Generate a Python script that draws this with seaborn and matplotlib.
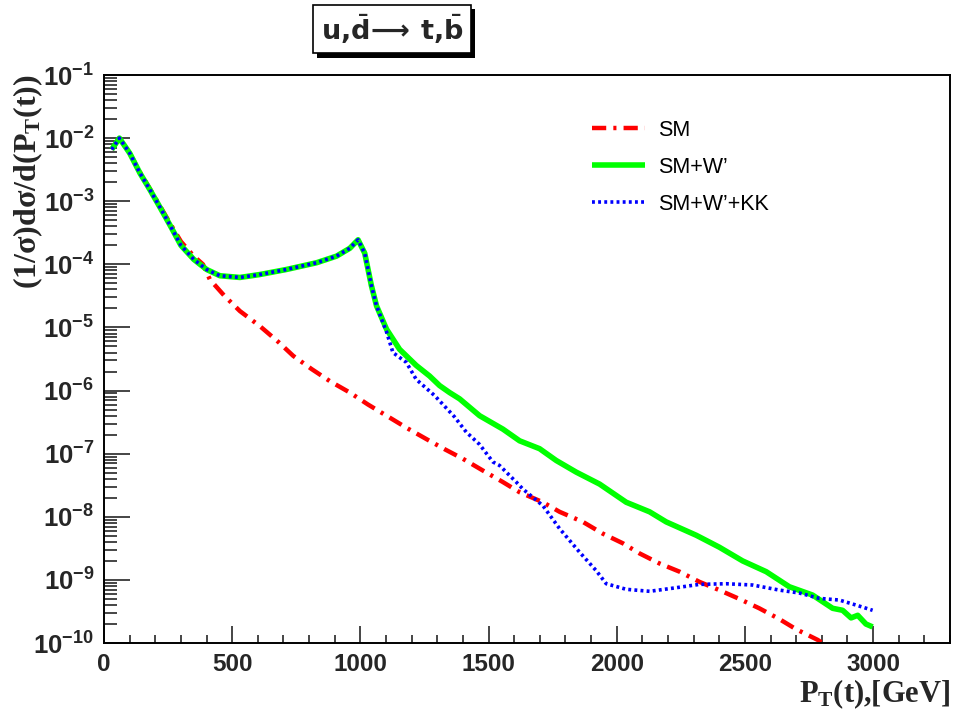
import math
import pandas as pd
import matplotlib
matplotlib.use("Agg")
import matplotlib.pyplot as plt
import matplotlib.ticker as mticker
import matplotlib.patheffects as pe
import seaborn as sns

# ---- data (pT in GeV, normalised distribution) ----
sm_pt = [30, 60, 100, 140, 180, 220, 260, 300, 350, 386, 413, 470, 530, 608, 680, 738,
         810, 881, 959, 1030, 1102, 1180, 1258, 1330, 1400, 1478, 1556, 1621, 1712, 1777,
         1868, 1946, 2024, 2089, 2167, 2245, 2323, 2400, 2478, 2556, 2634, 2699, 2784, 2810]
sm_val = [6.6e-3, 1.0e-2, 5.8e-3, 2.9e-3, 1.55e-3, 8.2e-4, 4.3e-4, 2.3e-4, 1.35e-4, 1.0e-4,
          5.75e-5, 3.16e-5, 1.82e-5, 1.05e-5, 5.9e-6, 3.55e-6, 2.19e-6, 1.41e-6, 9.3e-7,
          6.0e-7, 4.0e-7, 2.57e-7, 1.7e-7, 1.17e-7, 8.3e-8, 5.4e-8, 3.55e-8, 2.45e-8, 1.7e-8,
          1.2e-8, 8.3e-9, 5.4e-9, 3.8e-9, 2.63e-9, 1.82e-9, 1.35e-9, 9.3e-10, 6.9e-10,
          5.0e-10, 3.55e-10, 2.4e-10, 1.66e-10, 1.12e-10, 9.5e-11]

wp_pt = [30, 60, 100, 140, 180, 220, 260, 300, 350, 400, 452, 530, 608, 712, 829, 907, 959,
         991, 1017, 1030, 1043, 1063, 1102, 1153, 1218, 1270, 1309, 1348, 1387, 1465, 1556,
         1621, 1699, 1764, 1842, 1933, 2037, 2128, 2193, 2310, 2400, 2491, 2583, 2673, 2764,
         2842, 2881, 2914, 2940, 2972, 2998]
wp_val = [6.6e-3, 1.0e-2, 5.8e-3, 2.8e-3, 1.5e-3, 7.8e-4, 4.0e-4, 2.0e-4, 1.2e-4, 8.3e-5,
          6.6e-5, 6.2e-5, 6.9e-5, 8.3e-5, 1.06e-4, 1.35e-4, 1.8e-4, 2.45e-4, 1.5e-4, 8.3e-5,
          4.6e-5, 2.2e-5, 9.4e-6, 4.5e-6, 2.5e-6, 1.7e-6, 1.2e-6, 9.3e-7, 7.4e-7, 4.0e-7,
          2.45e-7, 1.6e-7, 1.2e-7, 7.8e-8, 5.1e-8, 3.3e-8, 1.7e-8, 1.2e-8, 8.3e-9, 5.1e-9,
          3.3e-9, 2.0e-9, 1.35e-9, 7.8e-10, 5.75e-10, 3.55e-10, 3.3e-10, 2.5e-10, 2.75e-10,
          2.0e-10, 1.8e-10]

kk_pt = [30, 60, 100, 140, 180, 220, 260, 300, 350, 400, 452, 530, 608, 712, 829, 907, 959,
         991, 1017, 1030, 1043, 1063, 1102, 1127, 1179, 1218, 1290, 1368, 1413, 1465, 1517,
         1543, 1608, 1634, 1712, 1777, 1855, 1920, 1959, 2037, 2128, 2219, 2323, 2427, 2530,
         2634, 2712, 2790, 2868, 2933, 2998]
kk_val = [6.6e-3, 1.0e-2, 5.8e-3, 2.8e-3, 1.5e-3, 7.8e-4, 4.0e-4, 2.0e-4, 1.2e-4, 8.3e-5,
          6.6e-5, 6.2e-5, 6.9e-5, 8.3e-5, 1.06e-4, 1.35e-4, 1.8e-4, 2.45e-4, 1.5e-4, 8.3e-5,
          4.6e-5, 2.2e-5, 8.5e-6, 4.0e-6, 2.8e-6, 1.5e-6, 8.3e-7, 3.8e-7, 2.2e-7, 1.4e-7,
          7.4e-8, 6.5e-8, 3.55e-8, 2.75e-8, 1.5e-8, 6.5e-9, 2.75e-9, 1.4e-9, 8.7e-10, 7.1e-10,
          6.6e-10, 7.4e-10, 8.5e-10, 8.7e-10, 8.3e-10, 6.9e-10, 6.2e-10, 5.1e-10, 4.8e-10,
          4.0e-10, 3.3e-10]

labels = ["SM", "SM+W\u2019", "SM+W\u2019+KK"]
x_ticks = [0, 500, 1000, 1500, 2000, 2500, 3000]
y_ticks = [1e-10, 1e-9, 1e-8, 1e-7, 1e-6, 1e-5, 1e-4, 1e-3, 1e-2, 1e-1]

sns.set_theme(style="white")
plt.rcParams["font.family"] = ["Liberation Sans", "DejaVu Sans"]
plt.rcParams["font.weight"] = "bold"
plt.rcParams["mathtext.fontset"] = "custom"
plt.rcParams["mathtext.rm"] = "Liberation Serif:bold"
plt.rcParams["mathtext.it"] = "Liberation Serif:bold"
plt.rcParams["mathtext.bf"] = "Liberation Serif:bold"
plt.rcParams["mathtext.sf"] = "Liberation Sans:bold"

fig = plt.figure(figsize=(9.55, 7.11), dpi=100)
ax = fig.add_axes([0.1089, 0.0956, 0.8859, 0.7989])

sns.lineplot(x=sm_pt, y=sm_val, ax=ax, color="#ff0000", lw=3.2, label=labels[0],
             estimator=None, sort=False)
sns.lineplot(x=wp_pt, y=wp_val, ax=ax, color="#00ff00", lw=4.0, label=labels[1],
             estimator=None, sort=False)
sns.lineplot(x=kk_pt, y=kk_val, ax=ax, color="#0000ff", lw=2.6, label=labels[2],
             estimator=None, sort=False)
ax.lines[0].set_dashes((3.2, 1.6, 0.7, 1.6))
ax.lines[2].set_dashes((0.8, 0.9))
for ln in ax.lines:
    ln.set_solid_capstyle("butt")
    ln.set_dash_capstyle("butt")

ax.set_yscale("log")
ax.set_xlim(0, 3300)
ax.set_ylim(1e-10, 1e-1)
ax.xaxis.label.set_visible(False)
ax.yaxis.label.set_visible(False)

ax.xaxis.set_major_locator(mticker.FixedLocator(x_ticks))
ax.xaxis.set_minor_locator(mticker.MultipleLocator(100))
ax.yaxis.set_major_locator(mticker.FixedLocator(y_ticks))
ax.yaxis.set_minor_locator(mticker.LogLocator(base=10, subs=range(2, 10), numticks=20))
ax.yaxis.set_minor_formatter(mticker.NullFormatter())
ax.yaxis.set_major_formatter(mticker.FuncFormatter(
    lambda v, p: r"$\mathsf{10^{%d}}$" % round(math.log10(v))))

ax.tick_params(axis="x", which="major", direction="in", length=12, width=1.2,
               labelsize=17.5, pad=7, bottom=True, top=False)
ax.tick_params(axis="x", which="minor", direction="in", length=6, width=1.2,
               bottom=True, top=False)
ax.tick_params(axis="y", which="major", direction="in", length=19, width=1.2,
               labelsize=18.5, pad=7, left=True, right=False)
ax.tick_params(axis="y", which="minor", direction="in", length=9.5, width=1.2,
               left=True, right=False)
for lab in ax.get_xticklabels():
    lab.set_fontweight("bold")
for sp in ax.spines.values():
    sp.set_color("black")
    sp.set_linewidth(1.4)

leg = ax.legend(loc="upper left", bbox_to_anchor=(592 / 955, 1 - 120 / 711),
                bbox_transform=fig.transFigure, frameon=False, handlelength=2.45,
                handletextpad=0.6, labelspacing=0.74, borderpad=0, borderaxespad=0,
                prop={"family": "Liberation Sans", "weight": "normal", "size": 15.5})
for t in leg.get_texts():
    t.set_color("black")

fig.text(28 / 955, 1 - 74 / 711, r"$\mathrm{(1/\sigma)d\sigma/d(P_T(t))}$",
         rotation=90, ha="center", va="top", fontsize=23)
fig.text(950 / 955, 1 - 702 / 711, r"$\mathrm{P_T(t){,}[GeV]}$",
         ha="right", va="baseline", fontsize=22)

title = fig.text(392 / 955, 1 - 29 / 711,
                 r"$\mathbf{u{,}\bar{d}}\!\longrightarrow\,\mathbf{t{,}\bar{b}}$",
                 ha="center", va="center", fontsize=19.5, math_fontfamily="dejavusans",
                 bbox=dict(boxstyle="square,pad=0.28", fc="white", ec="black", lw=1.2))
title.get_bbox_patch().set_path_effects(
    [pe.SimplePatchShadow(offset=(3, -3), shadow_rgbFace="black", alpha=1.0), pe.Normal()])

fig.savefig("out.png", dpi=100)
